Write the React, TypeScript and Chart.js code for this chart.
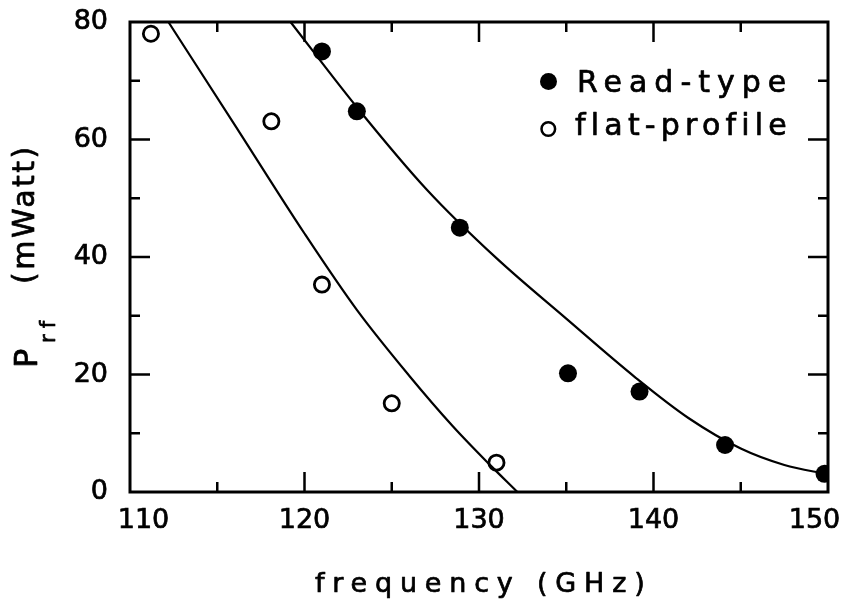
import { useEffect, useRef } from 'react';
import { Chart, registerables } from 'chart.js';

Chart.register(...registerables);

// ---- data ----
const readFreq = [121.0, 123.0, 128.9, 135.1, 139.2, 144.1, 149.8];
const readPower = [75.0, 64.8, 45.0, 20.2, 17.1, 8.0, 3.1];

const flatFreq = [111.2, 118.1, 121.0, 125.0, 131.0];
const flatPower = [78.0, 63.1, 35.3, 15.1, 5.0];

const readFitFreq = [119.2, 123.0, 127.0, 131.0, 135.0, 139.0, 142.0, 145.0, 147.5, 150.0];
const readFitPower = [80.0, 65.5, 51.5, 39.8, 29.5, 19.4, 12.6, 7.4, 4.6, 3.0];

const flatFitFreq = [112.2, 116.0, 120.0, 123.0, 126.0, 128.5, 130.5, 132.2];
const flatFitPower = [80.0, 62.5, 44.0, 31.0, 19.8, 11.2, 5.0, 0.0];

const xMin = 110;
const xMax = 150;
const yMin = 0;
const yMax = 80;
const xMinorStep = 5;
const yMinorStep = 10;

const xTitle = 'frequency (GHz)';
const yTitleMain = 'P';
const yTitleSub = 'rf';
const yTitleUnit = '(mWatt)';
const legendLabels = ['Read-type', 'flat-profile'];

const FONT = 'DejaVu Sans';
const EN = '\u2002';
const TEXT_STROKE = 0.7;

const toXY = (xs: number[], ys: number[]) => xs.map((x, i) => ({ x, y: ys[i] }));

const framePlugin = {
  id: 'frameTicks',
  afterDatasetsDraw(chart: any) {
    const { ctx, chartArea } = chart;
    const xs = chart.scales.x;
    const ys = chart.scales.y;
    ctx.save();
    ctx.strokeStyle = '#000';
    ctx.lineWidth = 3;
    ctx.strokeRect(chartArea.left, chartArea.top, chartArea.right - chartArea.left, chartArea.bottom - chartArea.top);
    ctx.lineWidth = 2.5;
    ctx.beginPath();
    for (let v = xMin + xMinorStep; v < xMax; v += xMinorStep) {
      const px = xs.getPixelForValue(v);
      const len = v % 10 === 0 ? 20 : 10;
      ctx.moveTo(px, chartArea.bottom);
      ctx.lineTo(px, chartArea.bottom - len);
      ctx.moveTo(px, chartArea.top);
      ctx.lineTo(px, chartArea.top + len);
    }
    for (let v = yMin + yMinorStep; v < yMax; v += yMinorStep) {
      const py = ys.getPixelForValue(v);
      const len = v % 20 === 0 ? 20 : 10;
      ctx.moveTo(chartArea.left, py);
      ctx.lineTo(chartArea.left + len, py);
      ctx.moveTo(chartArea.right, py);
      ctx.lineTo(chartArea.right - len, py);
    }
    ctx.stroke();
    ctx.restore();
  },
};

const boldText = (ctx: any, text: string, x: number, y: number) => {
  ctx.fillText(text, x, y);
  ctx.strokeText(text, x, y);
};

const textPlugin = {
  id: 'texts',
  beforeDraw(chart: any) {
    const { ctx, width, height } = chart;
    ctx.save();
    ctx.fillStyle = '#fff';
    ctx.fillRect(0, 0, width, height);
    ctx.restore();
  },
  afterDraw(chart: any) {
    const { ctx } = chart;
    ctx.save();
    ctx.fillStyle = '#000';
    ctx.strokeStyle = '#000';
    ctx.lineWidth = TEXT_STROKE;
    ctx.lineJoin = 'round';
    ctx.textBaseline = 'alphabetic';
    ctx.textAlign = 'left';

    // x title
    ctx.font = `27px "${FONT}"`;
    (ctx as any).letterSpacing = '7.8px';
    boldText(ctx, xTitle, 315, 592);

    // y title (rotated)
    ctx.save();
    ctx.translate(37, 368);
    ctx.rotate(-Math.PI / 2);
    ctx.font = `32px "${FONT}"`;
    (ctx as any).letterSpacing = '0px';
    boldText(ctx, yTitleMain, 0, 0);
    ctx.font = `21px "${FONT}"`;
    (ctx as any).letterSpacing = '6px';
    boldText(ctx, yTitleSub, 25, 18);
    ctx.font = `30px "${FONT}"`;
    (ctx as any).letterSpacing = '2.5px';
    boldText(ctx, yTitleUnit, 84, -3);
    ctx.restore();

    // legend
    ctx.beginPath();
    ctx.arc(548.5, 81.5, 8.5, 0, Math.PI * 2);
    ctx.fill();
    ctx.beginPath();
    ctx.lineWidth = 2.5;
    ctx.arc(548.3, 129, 6.8, 0, Math.PI * 2);
    ctx.stroke();
    ctx.lineWidth = TEXT_STROKE;
    ctx.font = `30px "${FONT}"`;
    (ctx as any).letterSpacing = '7px';
    boldText(ctx, legendLabels[0], 577, 92);
    (ctx as any).letterSpacing = '5.2px';
    boldText(ctx, legendLabels[1], 575, 135);
    ctx.restore();
  },
};

const zeroPad = (s: any) => {
  s.paddingLeft = 0;
  s.paddingRight = 0;
  s.paddingTop = 0;
  s.paddingBottom = 0;
};

export default function App() {
  const ref = useRef<HTMLCanvasElement>(null);
  useEffect(() => {
    if (!ref.current) return;
    const chart = new Chart(ref.current, {
      type: 'scatter',
      data: {
        datasets: [
          {
            label: 'Read-type fit',
            data: toXY(readFitFreq, readFitPower),
            showLine: true,
            borderColor: '#000',
            backgroundColor: '#000',
            borderWidth: 2.2,
            pointRadius: 0,
            cubicInterpolationMode: 'monotone',
            fill: false,
          },
          {
            label: 'flat-profile fit',
            data: toXY(flatFitFreq, flatFitPower),
            showLine: true,
            borderColor: '#000',
            backgroundColor: '#000',
            borderWidth: 2.2,
            pointRadius: 0,
            cubicInterpolationMode: 'monotone',
            fill: false,
          },
          {
            label: legendLabels[0],
            data: toXY(readFreq, readPower),
            showLine: false,
            pointRadius: 9,
            pointBackgroundColor: '#000',
            pointBorderColor: '#000',
            pointBorderWidth: 0,
          },
          {
            label: legendLabels[1],
            data: toXY(flatFreq, flatPower),
            showLine: false,
            pointRadius: 7.6,
            pointBackgroundColor: 'rgba(255,255,255,0)',
            pointBorderColor: '#000',
            pointBorderWidth: 2.8,
          },
        ],
      } as any,
      options: {
        animation: false,
        responsive: true,
        maintainAspectRatio: false,
        layout: { padding: { left: 0, top: 22, right: 15, bottom: 0 } },
        plugins: { legend: { display: false }, tooltip: { enabled: false } },
        scales: {
          x: {
            type: 'linear',
            min: xMin,
            max: xMax,
            afterFit: (s: any) => {
              s.height = 117;
              zeroPad(s);
            },
            grid: { display: false, drawTicks: false },
            border: { display: false },
            ticks: {
              stepSize: 10,
              padding: 13,
              color: '#000',
              textStrokeColor: '#000',
              textStrokeWidth: TEXT_STROKE,
              font: { family: FONT, size: 27 },
              maxRotation: 0,
              callback: (v: any) => {
                if (v === xMin) return EN + EN + String(v);
                if (v === xMax) return String(v) + EN + EN;
                return String(v);
              },
            },
          },
          y: {
            type: 'linear',
            min: yMin,
            max: yMax,
            afterFit: (s: any) => {
              s.width = 130;
              zeroPad(s);
            },
            grid: { display: false, drawTicks: false },
            border: { display: false },
            ticks: {
              stepSize: 20,
              padding: 22,
              color: '#000',
              textStrokeColor: '#000',
              textStrokeWidth: TEXT_STROKE,
              font: { family: FONT, size: 27 },
            },
          },
        },
      } as any,
      plugins: [framePlugin, textPlugin],
    });
    return () => chart.destroy();
  }, []);
  return (
    <div style={{ position: 'fixed', left: 0, top: 0, width: 843, height: 609, background: '#fff' }}>
      <canvas ref={ref} />
    </div>
  );
}
